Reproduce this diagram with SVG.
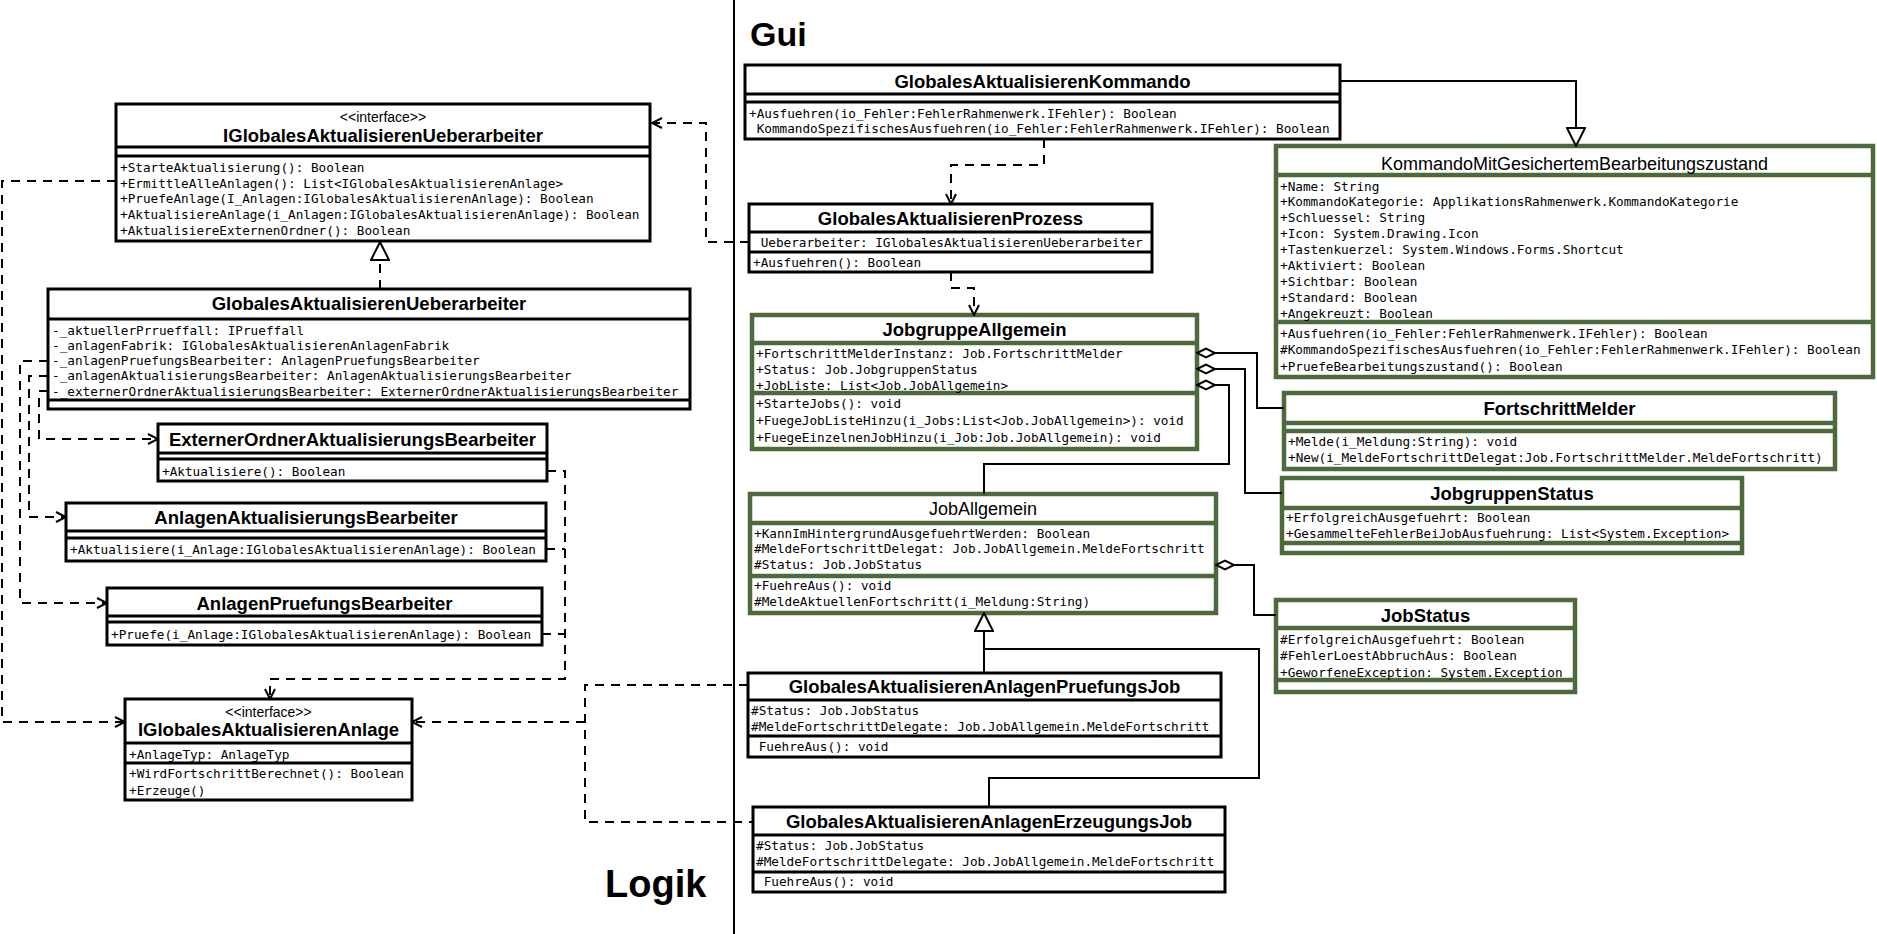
<svg xmlns="http://www.w3.org/2000/svg" width="1877" height="934" viewBox="0 0 1877 934">
<style>
.b{fill:#fff;stroke:#000;stroke-width:3}
.g{fill:#fff;stroke:#4c6a3b;stroke-width:4.5}
.sl{stroke:#000;stroke-width:3}
.gl{stroke:#4c6a3b;stroke-width:4.5}
.t{font-family:"Liberation Sans",Arial,sans-serif;font-weight:bold;font-size:18.5px;text-anchor:middle;fill:#000}
.tn{font-family:"Liberation Sans",Arial,sans-serif;font-size:18px;text-anchor:middle;fill:#000}
.st{font-family:"Liberation Sans",Arial,sans-serif;font-size:14px;text-anchor:middle;fill:#000}
.m{font-family:"DejaVu Sans Mono","Liberation Mono",monospace;font-size:12.7px;fill:#000}
.c{fill:none;stroke:#000;stroke-width:2}
.d{fill:none;stroke:#000;stroke-width:2;stroke-dasharray:9 7}
.big{font-family:"Liberation Sans",Arial,sans-serif;font-weight:bold;fill:#000}
</style>
<defs>
<marker id="open" viewBox="0 0 12 12" refX="11" refY="6" markerWidth="12" markerHeight="12" markerUnits="userSpaceOnUse" orient="auto"><path d="M1,1 L11,6 L1,11" fill="none" stroke="#000" stroke-width="2"/></marker>
<marker id="tri" viewBox="0 0 20 20" refX="19" refY="10" markerWidth="20" markerHeight="20" markerUnits="userSpaceOnUse" orient="auto"><path d="M1,1 L19,10 L1,19 Z" fill="#fff" stroke="#000" stroke-width="2"/></marker>
<marker id="dia" viewBox="0 0 22 12" refX="1" refY="6" markerWidth="22" markerHeight="12" markerUnits="userSpaceOnUse" orient="auto"><path d="M1,6 L10,1.5 L19,6 L10,10.5 Z" fill="#fff" stroke="#000" stroke-width="2"/></marker>
</defs>
<rect width="1877" height="934" fill="#fff"/>
<path d="M734,0 V934" stroke="#000" stroke-width="2"/>
<text class="big" x="750" y="46" font-size="34">Gui</text>
<text class="big" x="605" y="897" font-size="38">Logik</text>

<g id="IGlobalesAktualisierenUeberarbeiter">
<rect class="b" x="116" y="104" width="534" height="137"/>
<path class="sl" d="M116,147 H650 M116,156 H650"/>
<text class="st" x="383" y="122">&lt;&lt;interface&gt;&gt;</text>
<text class="t" x="383" y="142">IGlobalesAktualisierenUeberarbeiter</text>
<text class="m" x="120" y="172">+StarteAktualisierung(): Boolean</text>
<text class="m" x="120" y="187.7">+ErmittleAlleAnlagen(): List&lt;IGlobalesAktualisierenAnlage&gt;</text>
<text class="m" x="120" y="203.4">+PruefeAnlage(I_Anlagen:IGlobalesAktualisierenAnlage): Boolean</text>
<text class="m" x="120" y="219.1">+AktualisiereAnlage(i_Anlagen:IGlobalesAktualisierenAnlage): Boolean</text>
<text class="m" x="120" y="234.8">+AktualisiereExternenOrdner(): Boolean</text>
</g>

<g id="GlobalesAktualisierenUeberarbeiter">
<rect class="b" x="48" y="289" width="642" height="120"/>
<path class="sl" d="M48,319 H690 M48,400 H690"/>
<text class="t" x="369" y="310">GlobalesAktualisierenUeberarbeiter</text>
<text class="m" x="52" y="334.5">-_aktuellerPrrueffall: IPrueffall</text>
<text class="m" x="52" y="349.8">-_anlagenFabrik: IGlobalesAktualisierenAnlagenFabrik</text>
<text class="m" x="52" y="365.1">-_anlagenPruefungsBearbeiter: AnlagenPruefungsBearbeiter</text>
<text class="m" x="52" y="380.4">-_anlagenAktualisierungsBearbeiter: AnlagenAktualisierungsBearbeiter</text>
<text class="m" x="52" y="395.7">-_externerOrdnerAktualisierungsBearbeiter: ExternerOrdnerAktualisierungsBearbeiter</text>
</g>

<g id="ExternerOrdnerAktualisierungsBearbeiter">
<rect class="b" x="158" y="424" width="389" height="57"/>
<path class="sl" d="M158,453 H547 M158,459 H547"/>
<text class="t" x="352.5" y="446">ExternerOrdnerAktualisierungsBearbeiter</text>
<text class="m" x="162" y="475.5">+Aktualisiere(): Boolean</text>
</g>

<g id="AnlagenAktualisierungsBearbeiter">
<rect class="b" x="66" y="503" width="480" height="58"/>
<path class="sl" d="M66,531 H546 M66,538 H546"/>
<text class="t" x="306" y="524">AnlagenAktualisierungsBearbeiter</text>
<text class="m" x="70" y="553.5">+Aktualisiere(i_Anlage:IGlobalesAktualisierenAnlage): Boolean</text>
</g>

<g id="AnlagenPruefungsBearbeiter">
<rect class="b" x="107" y="588" width="435" height="57"/>
<path class="sl" d="M107,616 H542 M107,622 H542"/>
<text class="t" x="324.5" y="610">AnlagenPruefungsBearbeiter</text>
<text class="m" x="111" y="638.5">+Pruefe(i_Anlage:IGlobalesAktualisierenAnlage): Boolean</text>
</g>

<g id="IGlobalesAktualisierenAnlage">
<rect class="b" x="125" y="699" width="287" height="101"/>
<path class="sl" d="M125,743 H412 M125,763 H412"/>
<text class="st" x="268.5" y="717">&lt;&lt;interface&gt;&gt;</text>
<text class="t" x="268.5" y="736">IGlobalesAktualisierenAnlage</text>
<text class="m" x="129" y="758.5">+AnlageTyp: AnlageTyp</text>
<text class="m" x="129" y="777.5">+WirdFortschrittBerechnet(): Boolean</text>
<text class="m" x="129" y="794.5">+Erzeuge()</text>
</g>

<g id="GlobalesAktualisierenKommando">
<rect class="b" x="745" y="65" width="595" height="74"/>
<path class="sl" d="M745,94 H1340 M745,102 H1340"/>
<text class="t" x="1042.5" y="88">GlobalesAktualisierenKommando</text>
<text class="m" x="749" y="117.5">+Ausfuehren(io_Fehler:FehlerRahmenwerk.IFehler): Boolean</text>
<text class="m" x="749" y="132.5" xml:space="preserve"> KommandoSpezifischesAusfuehren(io_Fehler:FehlerRahmenwerk.IFehler): Boolean</text>
</g>

<g id="GlobalesAktualisierenProzess">
<rect class="b" x="749" y="204" width="403" height="68"/>
<path class="sl" d="M749,232 H1152 M749,252 H1152"/>
<text class="t" x="950.5" y="225">GlobalesAktualisierenProzess</text>
<text class="m" x="753" y="246.5" xml:space="preserve"> Ueberarbeiter: IGlobalesAktualisierenUeberarbeiter</text>
<text class="m" x="753" y="266.5">+Ausfuehren(): Boolean</text>
</g>

<g id="GlobalesAktualisierenAnlagenPruefungsJob">
<rect class="b" x="748" y="673" width="473" height="84"/>
<path class="sl" d="M748,700 H1221 M748,736 H1221"/>
<text class="t" x="984.5" y="693">GlobalesAktualisierenAnlagenPruefungsJob</text>
<text class="m" x="751" y="714.5">#Status: Job.JobStatus</text>
<text class="m" x="751" y="730.5">#MeldeFortschrittDelegate: Job.JobAllgemein.MeldeFortschritt</text>
<text class="m" x="751" y="750.5" xml:space="preserve"> FuehreAus(): void</text>
</g>

<g id="GlobalesAktualisierenAnlagenErzeugungsJob">
<rect class="b" x="753" y="807" width="472" height="85"/>
<path class="sl" d="M753,835 H1225 M753,872 H1225"/>
<text class="t" x="989" y="828">GlobalesAktualisierenAnlagenErzeugungsJob</text>
<text class="m" x="756" y="849.5">#Status: Job.JobStatus</text>
<text class="m" x="756" y="865.5">#MeldeFortschrittDelegate: Job.JobAllgemein.MeldeFortschritt</text>
<text class="m" x="756" y="885.5" xml:space="preserve"> FuehreAus(): void</text>
</g>

<g id="KommandoMitGesichertemBearbeitungszustand">
<rect class="g" x="1276" y="146" width="597" height="231"/>
<path class="gl" d="M1276,175 H1873 M1276,322 H1873"/>
<text class="tn" x="1574.5" y="169.5">KommandoMitGesichertemBearbeitungszustand</text>
<text class="m" x="1280" y="190.5">+Name: String</text>
<text class="m" x="1280" y="206.4">+KommandoKategorie: ApplikationsRahmenwerk.KommandoKategorie</text>
<text class="m" x="1280" y="222.3">+Schluessel: String</text>
<text class="m" x="1280" y="238.2">+Icon: System.Drawing.Icon</text>
<text class="m" x="1280" y="254.1">+Tastenkuerzel: System.Windows.Forms.Shortcut</text>
<text class="m" x="1280" y="270">+Aktiviert: Boolean</text>
<text class="m" x="1280" y="285.9">+Sichtbar: Boolean</text>
<text class="m" x="1280" y="301.8">+Standard: Boolean</text>
<text class="m" x="1280" y="317.7">+Angekreuzt: Boolean</text>
<text class="m" x="1280" y="337.5">+Ausfuehren(io_Fehler:FehlerRahmenwerk.IFehler): Boolean</text>
<text class="m" x="1280" y="353.5">#KommandoSpezifischesAusfuehren(io_Fehler:FehlerRahmenwerk.IFehler): Boolean</text>
<text class="m" x="1280" y="370.5">+PruefeBearbeitungszustand(): Boolean</text>
</g>

<g id="JobgruppeAllgemein">
<rect class="g" x="752" y="315" width="445" height="134"/>
<path class="gl" d="M752,343 H1197 M752,393 H1197"/>
<text class="t" x="974.5" y="336">JobgruppeAllgemein</text>
<text class="m" x="756" y="357.5">+FortschrittMelderInstanz: Job.FortschrittMelder</text>
<text class="m" x="756" y="373.5">+Status: Job.JobgruppenStatus</text>
<text class="m" x="756" y="389.5">+JobListe: List&lt;Job.JobAllgemein&gt;</text>
<text class="m" x="756" y="407.5">+StarteJobs(): void</text>
<text class="m" x="756" y="424.5">+FuegeJobListeHinzu(i_Jobs:List&lt;Job.JobAllgemein&gt;): void</text>
<text class="m" x="756" y="441.5">+FuegeEinzelnenJobHinzu(i_Job:Job.JobAllgemein): void</text>
</g>

<g id="FortschrittMelder">
<rect class="g" x="1284" y="393" width="551" height="76"/>
<path class="gl" d="M1284,423 H1835 M1284,431 H1835"/>
<text class="t" x="1559.5" y="415">FortschrittMelder</text>
<text class="m" x="1288" y="445.5">+Melde(i_Meldung:String): void</text>
<text class="m" x="1288" y="461.5">+New(i_MeldeFortschrittDelegat:Job.FortschrittMelder.MeldeFortschritt)</text>
</g>

<g id="JobgruppenStatus">
<rect class="g" x="1282" y="478" width="460" height="75"/>
<path class="gl" d="M1282,508 H1742 M1282,543 H1742"/>
<text class="t" x="1512" y="500">JobgruppenStatus</text>
<text class="m" x="1286" y="521.5">+ErfolgreichAusgefuehrt: Boolean</text>
<text class="m" x="1286" y="537.5">+GesammelteFehlerBeiJobAusfuehrung: List&lt;System.Exception&gt;</text>
</g>

<g id="JobAllgemein">
<rect class="g" x="750" y="494" width="466" height="119"/>
<path class="gl" d="M750,523 H1216 M750,576 H1216"/>
<text class="tn" x="983" y="514.5">JobAllgemein</text>
<text class="m" x="754" y="537.5">+KannImHintergrundAusgefuehrtWerden: Boolean</text>
<text class="m" x="754" y="552.5">#MeldeFortschrittDelegat: Job.JobAllgemein.MeldeFortschritt</text>
<text class="m" x="754" y="568.5">#Status: Job.JobStatus</text>
<text class="m" x="754" y="589.5">+FuehreAus(): void</text>
<text class="m" x="754" y="605.5">#MeldeAktuellenFortschritt(i_Meldung:String)</text>
</g>

<g id="JobStatus">
<rect class="g" x="1276" y="600" width="299" height="92"/>
<path class="gl" d="M1276,628 H1575 M1276,680 H1575"/>
<text class="t" x="1425.5" y="622">JobStatus</text>
<text class="m" x="1280" y="643.5">#ErfolgreichAusgefuehrt: Boolean</text>
<text class="m" x="1280" y="659.5">#FehlerLoestAbbruchAus: Boolean</text>
<text class="m" x="1280" y="676.5">+GeworfeneException: System.Exception</text>
</g>

<g id="connectors">
<path class="d" d="M1044,139 V165 H951 V204" marker-end="url(#open)"/>
<path class="d" d="M951,272 V288 H974 V315" marker-end="url(#open)"/>
<path class="d" d="M749,242 H706 V123 H652" marker-end="url(#open)"/>
<path class="d" d="M116,181 H2 V722 H125" marker-end="url(#open)"/>
<path class="d" d="M48,361 H20 V603 H107" marker-end="url(#open)"/>
<path class="d" d="M48,376 H29 V517 H66" marker-end="url(#open)"/>
<path class="d" d="M48,391 H39 V439 H158" marker-end="url(#open)"/>
<path class="d" d="M547,471 H565 V679 H270 V699" marker-end="url(#open)"/>
<path class="d" d="M546,549 H565"/>
<path class="d" d="M542,634 H565"/>
<path class="d" d="M380,289 V242" marker-end="url(#tri)"/>
<path class="d" d="M748,685 H585 V822 H753"/>
<path class="d" d="M585,722 H412" marker-end="url(#open)"/>
<path class="c" d="M1340,81 H1576 V146" marker-end="url(#tri)"/>
<path class="c" d="M1197,353 H1257 V408 H1284" marker-start="url(#dia)"/>
<path class="c" d="M1197,369 H1245 V493 H1282" marker-start="url(#dia)"/>
<path class="c" d="M1197,385 H1229 V464 H984 V494" marker-start="url(#dia)"/>
<path class="c" d="M1216,565 H1254 V615 H1276" marker-start="url(#dia)"/>
<path class="c" d="M984,673 V613" marker-end="url(#tri)"/>
<path class="c" d="M989,807 V778 H1259 V649 H984"/>
</g>
</svg>
